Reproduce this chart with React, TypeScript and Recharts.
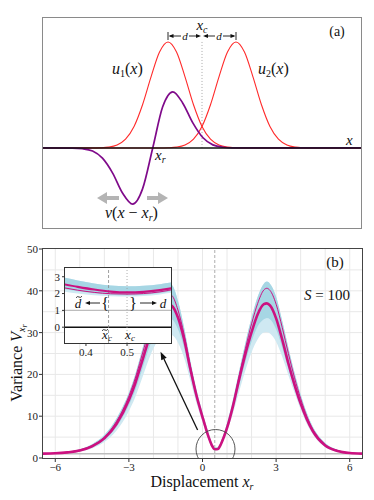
import {
  Area,
  CartesianGrid,
  ComposedChart,
  Line,
  LineChart,
  ReferenceDot,
  ReferenceLine,
  XAxis,
  YAxis,
} from 'recharts';

const SERIF = "'Liberation Serif', 'DejaVu Serif', serif";
const RED = '#ff2a2a';
const PURPLE = '#7f0a8a';
const MAGENTA = '#cc1180';
const BAND_OUT = '#cfe9f2';
const BAND_CORE = '#a6d6e4';

// panel (a): basis functions and the probe, in units of d
const U1_X = [-4.75, -3.25, -3, -2.75, -2.5, -2.25, -2, -1.75, -1.5, -1.25, -1, -0.75, -0.5, -0.25, 0, 0.25, 0.5, 0.75, 1, 1.25, 4.75];
const U2_X = [-4.75, -1.25, -1, -0.75, -0.5, -0.25, 0, 0.25, 0.5, 0.75, 1, 1.25, 1.5, 1.75, 2, 2.25, 2.5, 2.75, 3, 3.25, 4.75];
const U_VALS = [0, 0, 0.002, 0.008, 0.028, 0.083, 0.203, 0.408, 0.671, 0.905, 1, 0.905, 0.671, 0.408, 0.203, 0.083, 0.028, 0.008, 0.002, 0, 0];
const V_X = [-4.75, -3.81, -3.52, -3.22, -2.93, -2.63, -2.34, -2.04, -1.75, -1.45, -1.16, -0.86, -0.57, -0.27, 0.03, 0.32, 0.62, 0.91, 4.75];
const V_VALS = [0, -0.001, -0.007, -0.029, -0.096, -0.237, -0.425, -0.53, -0.386, 0, 0.386, 0.53, 0.425, 0.237, 0.096, 0.029, 0.007, 0.001, 0];

// panel (b): variance vs displacement
const B_X = [-6.5, -6, -5.5, -5, -4.5, -4, -3.5, -3, -2.75, -2.5, -2.25, -2, -1.75, -1.5, -1.25, -1, -0.75, -0.5, -0.25, 0, 0.125, 0.25, 0.375, 0.5, 0.625, 0.75, 0.875, 1, 1.25, 1.5, 1.75, 2, 2.25, 2.5, 2.625, 2.75, 3, 3.25, 3.5, 3.75, 4, 4.25, 4.5, 5, 5.5, 6, 6.5];
const B_MEAN = [1.05, 1.12, 1.35, 1.8, 2.8, 4.7, 8.2, 13.9, 17.7, 22.4, 27.2, 31.6, 35.0, 36.9, 36.4, 33.6, 28.4, 21.4, 15.0, 9.8, 7.3, 5.0, 3.1, 2.1, 2.15, 3.3, 5.1, 7.2, 12.6, 19.0, 24.9, 30.1, 34.4, 36.8, 37.0, 36.5, 33.4, 28.3, 22.6, 17.5, 13.0, 9.3, 6.4, 3.0, 1.7, 1.2, 1.05];
const B_THIN = [1.05, 1.15, 1.4, 1.9, 3.0, 5.0, 8.8, 14.8, 18.9, 23.9, 29.0, 33.8, 37.6, 39.6, 38.9, 35.4, 29.6, 22.2, 15.4, 9.9, 7.3, 4.9, 3.0, 2.0, 2.05, 3.3, 5.2, 7.4, 13.0, 19.8, 26.2, 32.1, 37.0, 40.2, 40.6, 40.1, 36.8, 31.2, 25.0, 19.2, 14.2, 10.0, 6.8, 3.2, 1.8, 1.2, 1.05];
const B_HI = [1.1, 1.22, 1.5, 2.1, 3.3, 5.5, 9.5, 15.6, 19.8, 25.0, 30.3, 35.2, 39.4, 41.8, 41.4, 37.6, 31.2, 23.4, 16.5, 10.9, 8.3, 5.8, 3.7, 2.5, 2.6, 3.9, 6.0, 8.4, 14.2, 21.0, 27.6, 33.6, 38.6, 41.7, 42.2, 41.7, 38.6, 32.8, 26.4, 20.4, 15.2, 10.8, 7.4, 3.6, 2.0, 1.35, 1.12];
const B_CORE_LO = [1.02, 1.08, 1.28, 1.68, 2.55, 4.25, 7.4, 12.6, 16.0, 20.4, 25.0, 29.0, 32.0, 33.5, 33.2, 30.8, 26.4, 20.0, 14.1, 9.2, 6.9, 4.7, 2.9, 1.95, 2.0, 3.05, 4.75, 6.75, 11.7, 17.5, 23.0, 27.8, 31.5, 33.2, 33.5, 33.2, 30.8, 26.4, 21.3, 16.6, 12.3, 8.75, 6.0, 2.8, 1.58, 1.15, 1.03];
const B_LO = [1.0, 1.05, 1.2, 1.55, 2.3, 3.8, 6.6, 11.2, 14.4, 18.4, 22.6, 26.2, 28.6, 29.6, 29.4, 27.6, 24.0, 18.6, 13.2, 8.6, 6.5, 4.4, 2.7, 1.85, 1.85, 2.8, 4.4, 6.3, 10.8, 16.0, 21.0, 25.3, 28.4, 30.0, 30.1, 29.8, 27.8, 24.2, 19.8, 15.6, 11.6, 8.2, 5.6, 2.6, 1.45, 1.1, 1.02];
const B_XTICKS = [-6, -3, 0, 3, 6];
const B_YTICKS = [0, 10, 20, 30, 40, 50];

// inset: zoom on the minimum
const IN_X = [0.34, 0.38, 0.42, 0.46, 0.5, 0.54, 0.58, 0.62];
const IN_MEAN = [2.58, 2.4, 2.24, 2.12, 2.07, 2.1, 2.2, 2.36];
const IN_THIN = [2.37, 2.2, 2.07, 1.99, 1.97, 2.0, 2.1, 2.28];
const IN_HI = [2.98, 2.78, 2.6, 2.48, 2.43, 2.46, 2.56, 2.7];
const IN_CORE_LO = [2.3, 2.14, 2.02, 1.93, 1.9, 1.93, 2.04, 2.2];
const IN_LO = [2.15, 2.0, 1.9, 1.84, 1.82, 1.85, 1.95, 2.1];
const IN_XTICKS = [0.4, 0.5];
const IN_YTICKS = [0, 1, 2, 3];

const zip = (xs: number[], ys: number[]) => xs.map((x, i) => ({ x, y: ys[i] }));

const bData = B_X.map((x, i) => ({
  x, mean: B_MEAN[i], thin: B_THIN[i], band: [B_LO[i], B_HI[i]], core: [B_CORE_LO[i], B_HI[i]],
}));
const inData = IN_X.map((x, i) => ({
  x, mean: IN_MEAN[i], thin: IN_THIN[i], band: [IN_LO[i], IN_HI[i]], core: [IN_CORE_LO[i], IN_HI[i]],
}));

const minus = (v: number) => (v < 0 ? `\u2212${-v}` : `${v}`);

const arrowShape = (props: any) => {
  const { x1, y1, x2, y2 } = props;
  const a = Math.atan2(y2 - y1, x2 - x1);
  const bx = x2 - 8 * Math.cos(a);
  const by = y2 - 8 * Math.sin(a);
  const px = -Math.sin(a) * 3;
  const py = Math.cos(a) * 3;
  return (
    <g>
      <line x1={x1} y1={y1} x2={bx} y2={by} stroke="#111" strokeWidth={1.3} />
      <polygon points={`${x2},${y2} ${bx + px},${by + py} ${bx - px},${by - py}`} fill="#111" />
    </g>
  );
};

const tickStyle = { fontFamily: SERIF, fontSize: 11, fill: '#222' };

function Head({ x, y, dir }: { x: number; y: number; dir: 1 | -1 }) {
  return <polygon points={`${x},${y} ${x - dir * 5},${y - 2} ${x - dir * 5},${y + 2}`} fill="#111" />;
}

function Tilde({ x, y }: { x: number; y: number }) {
  return <path d={`M${x - 3},${y + 0.8} q1.5,-2 3,-0.8 t3,-0.8`} fill="none" stroke="#111" strokeWidth={0.8} />;
}

function Overlay() {
  const it = { fontStyle: 'italic' as const };
  return (
    <svg width={374} height={500} style={{ position: 'absolute', left: 0, top: 0, pointerEvents: 'none' }}
      fontFamily={SERIF} fill="#111">
      {/* panel (a) */}
      <text x={202} y={30} fontSize={15} textAnchor="middle"><tspan {...it}>x</tspan><tspan {...it} fontSize={10} dy={3}>c</tspan></text>
      <text x={337} y={36} fontSize={14} textAnchor="middle">(a)</text>
      <g stroke="#111" strokeWidth={0.9}>
        <line x1={168} y1={32} x2={168} y2={40} />
        <line x1={236} y1={32} x2={236} y2={40} />
        <line x1={170} y1={36} x2={181} y2={36} />
        <line x1={189} y1={36} x2={199} y2={36} />
        <line x1={205} y1={36} x2={215} y2={36} />
        <line x1={223} y1={36} x2={234} y2={36} />
      </g>
      <Head x={168.5} y={36} dir={-1} />
      <Head x={201} y={36} dir={1} />
      <Head x={203} y={36} dir={-1} />
      <Head x={235.5} y={36} dir={1} />
      <text x={185} y={40} fontSize={11} textAnchor="middle" {...it}>d</text>
      <text x={219} y={40} fontSize={11} textAnchor="middle" {...it}>d</text>
      <text x={112} y={74} fontSize={16}><tspan {...it}>u</tspan><tspan fontSize={10} dy={3}>1</tspan><tspan dy={-3}>(</tspan><tspan {...it}>x</tspan>)</text>
      <text x={258} y={74} fontSize={16}><tspan {...it}>u</tspan><tspan fontSize={10} dy={3}>2</tspan><tspan dy={-3}>(</tspan><tspan {...it}>x</tspan>)</text>
      <text x={346} y={145} fontSize={15} {...it}>x</text>
      <text x={155} y={160} fontSize={15}><tspan {...it}>x</tspan><tspan {...it} fontSize={10} dy={3}>r</tspan></text>
      <text x={105} y={218} fontSize={16}><tspan {...it}>v</tspan>(<tspan {...it}>x</tspan> − <tspan {...it}>x</tspan><tspan {...it} fontSize={10} dy={3}>r</tspan><tspan dy={-3}>)</tspan></text>
      <g fill="#b4b4b4">
        <polygon points="97,198 107,192 107,196 119,196 119,200 107,200 107,204" />
        <polygon points="168,198 158,192 158,196 147,196 147,200 158,200 158,204" />
      </g>

      {/* panel (b) */}
      <text x={335} y={267} fontSize={15} textAnchor="middle">(b)</text>
      <text x={304} y={300} fontSize={15}><tspan {...it}>S</tspan> = 100</text>
      <text transform="translate(22,363) rotate(-90)" fontSize={16} textAnchor="middle">
        Variance <tspan {...it}>V</tspan><tspan {...it} fontSize={10} dy={3}>x</tspan><tspan {...it} fontSize={8} dy={2}>r</tspan>
      </text>
      <text x={202} y={487} fontSize={16} textAnchor="middle">
        Displacement <tspan {...it}>x</tspan><tspan {...it} fontSize={10} dy={3}>r</tspan>
      </text>

      {/* inset annotations */}
      <text x={78} y={308} fontSize={13} textAnchor="middle" {...it}>d</text>
      <Tilde x={79} y={297} />
      <line x1={89} y1={303} x2={100} y2={303} stroke="#111" strokeWidth={0.9} />
      <Head x={85} y={303} dir={-1} />
      <text x={105} y={309} fontSize={16} textAnchor="middle">{'{'}</text>
      <text x={133} y={309} fontSize={16} textAnchor="middle">{'}'}</text>
      <line x1={140} y1={303} x2={153} y2={303} stroke="#111" strokeWidth={0.9} />
      <Head x={157} y={303} dir={1} />
      <text x={163} y={308} fontSize={13} textAnchor="middle" {...it}>d</text>
      <text x={107} y={339} fontSize={13} textAnchor="middle"><tspan {...it}>x</tspan><tspan {...it} fontSize={9} dy={2}>c</tspan></text>
      <Tilde x={105} y={330} />
      <text x={130} y={339} fontSize={13} textAnchor="middle"><tspan {...it}>x</tspan><tspan {...it} fontSize={9} dy={2}>c</tspan></text>
    </svg>
  );
}

export default function App() {
  return (
    <div style={{ position: 'absolute', left: 0, top: 0, width: 374, height: 500, background: '#fff' }}>
      {/* panel (a) */}
      <div style={{ position: 'absolute', left: 0, top: 0 }}>
        <LineChart width={374} height={232} margin={{ top: 18, right: 13, left: 43, bottom: 4 }}>
          <XAxis type="number" dataKey="x" domain={[-4.68, 4.68]} allowDataOverflow hide />
          <YAxis type="number" domain={[-0.755, 1.226]} allowDataOverflow hide />
          <ReferenceLine segment={[{ x: 0, y: 0 }, { x: 0, y: 1.02 }]} stroke="#aaa" strokeDasharray="1 2" />
          <Line data={zip(U1_X, U_VALS)} dataKey="y" type="monotone" stroke={RED} strokeWidth={1.1} dot={false} isAnimationActive={false} />
          <Line data={zip(U2_X, U_VALS)} dataKey="y" type="monotone" stroke={RED} strokeWidth={1.1} dot={false} isAnimationActive={false} />
          <Line data={zip(V_X, V_VALS)} dataKey="y" type="monotone" stroke={PURPLE} strokeWidth={1.7} dot={false} isAnimationActive={false} />
          <ReferenceLine y={0} stroke="#111" strokeWidth={1.6} />
        </LineChart>
      </div>
      <div style={{ position: 'absolute', left: 42, top: 17, width: 320, height: 212, border: '1px solid #8a8a8a', boxSizing: 'border-box' }} />

      {/* panel (b) */}
      <div style={{ position: 'absolute', left: 0, top: 240 }}>
        <ComposedChart width={374} height={260} data={bData} margin={{ top: 9, right: 12, left: 0, bottom: 0 }}>
          <CartesianGrid stroke="#e8e8e8" verticalValues={[-6, -5, -4, -3, -2, -1, 0, 1, 2, 3, 4, 5, 6]} horizontalValues={[5, 10, 15, 20, 25, 30, 35, 40, 45]} />
          <XAxis type="number" dataKey="x" domain={[-6.5, 6.5]} ticks={B_XTICKS} interval={0} tickFormatter={minus} allowDataOverflow
            axisLine={false} tickSize={4} tickMargin={1} height={42} tick={tickStyle} tickLine={{ stroke: '#333' }} />
          <YAxis type="number" domain={[0, 50]} ticks={B_YTICKS} interval={0} width={43} axisLine={false} tickSize={4} tickMargin={1}
            tick={tickStyle} tickLine={{ stroke: '#333' }} />
          <ReferenceLine y={1} stroke="#bdbdbd" strokeWidth={1.6} />
          <Area dataKey="band" type="monotone" stroke="none" fill={BAND_OUT} fillOpacity={1} isAnimationActive={false} />
          <Area dataKey="core" type="monotone" stroke="none" fill={BAND_CORE} fillOpacity={1} isAnimationActive={false} />
          <Line dataKey="thin" type="monotone" stroke={MAGENTA} strokeWidth={1} dot={false} isAnimationActive={false} />
          <Line dataKey="mean" type="monotone" stroke={MAGENTA} strokeWidth={2.6} dot={false} isAnimationActive={false} />
          <ReferenceLine x={0.5} stroke="#999" strokeDasharray="3 2" strokeWidth={0.8} />
          <ReferenceDot x={0.53} y={2.15} r={19.5} fill="none" stroke="#444" strokeWidth={0.9} ifOverflow="hidden" />
          <ReferenceLine segment={[{ x: -0.2, y: 6.7 }, { x: -1.71, y: 25.4 }]} shape={arrowShape} ifOverflow="visible" />
        </ComposedChart>
      </div>
      <div style={{ position: 'absolute', left: 42, top: 248, width: 321, height: 211, border: '1px solid #444', boxSizing: 'border-box' }} />

      {/* inset */}
      <div style={{ position: 'absolute', left: 40, top: 262 }}>
        <ComposedChart width={135} height={100} data={inData} margin={{ top: 6, right: 4, left: 0, bottom: 0 }}>
          <CartesianGrid horizontal={false} vertical={false} fill="#fff" fillOpacity={1} />
          <XAxis type="number" dataKey="x" domain={[0.349, 0.607]} ticks={IN_XTICKS} interval={0} allowDataOverflow axisLine={false}
            tickSize={3} tickMargin={2} height={19} tick={{ ...tickStyle, fontSize: 11 }} tickLine={{ stroke: '#333' }} />
          <YAxis type="number" domain={[-0.94, 3.52]} ticks={IN_YTICKS} interval={0} allowDataOverflow width={25} axisLine={false}
            tickSize={3} tickMargin={2} tick={{ ...tickStyle, fontSize: 11 }} tickLine={{ stroke: '#333' }} />
          <ReferenceLine y={1} stroke="#bdbdbd" strokeWidth={1.3} />
          <ReferenceLine y={0} stroke="#111" strokeWidth={1.5} />
          <ReferenceLine x={0.455} stroke="#888" strokeDasharray="3 2" strokeWidth={0.8} />
          <ReferenceLine x={0.5} stroke="#999" strokeDasharray="1 2" strokeWidth={0.8} />
          <Area dataKey="band" type="monotone" stroke="none" fill={BAND_OUT} fillOpacity={1} isAnimationActive={false} />
          <Area dataKey="core" type="monotone" stroke="none" fill={BAND_CORE} fillOpacity={1} isAnimationActive={false} />
          <Line dataKey="thin" type="monotone" stroke={MAGENTA} strokeWidth={1} dot={false} isAnimationActive={false} />
          <Line dataKey="mean" type="monotone" stroke={MAGENTA} strokeWidth={2.2} dot={false} isAnimationActive={false} />
        </ComposedChart>
      </div>
      <div style={{ position: 'absolute', left: 64, top: 267, width: 108, height: 77, border: '1px solid #333', boxSizing: 'border-box' }} />

      <Overlay />
    </div>
  );
}
